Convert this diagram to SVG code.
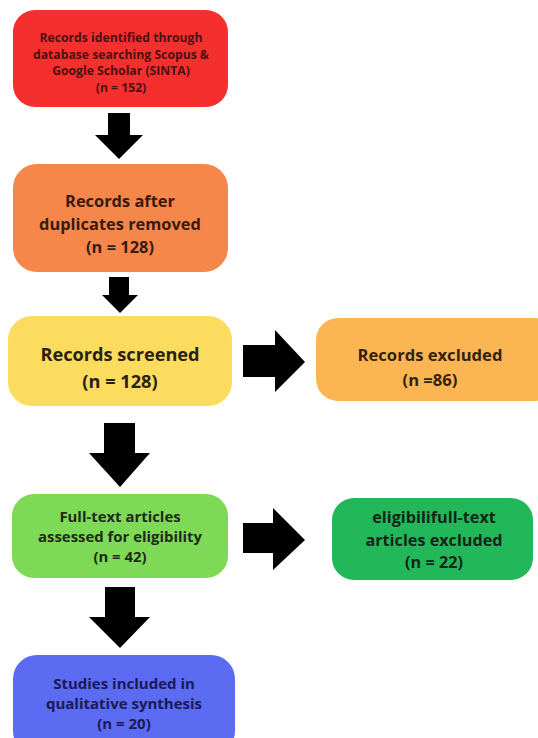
<svg xmlns="http://www.w3.org/2000/svg" width="538" height="738" viewBox="0 0 538 738">
<style>
text{font-family:"Open Sans","Noto Sans","Liberation Sans",sans-serif;font-weight:700;text-anchor:middle;dominant-baseline:central}
.arrow{fill:#000}
</style>
<rect width="538" height="738" fill="#fff"/>
<g id="connectors">
<polygon class="arrow" points="108,113 130,113 130,135 143,135 119,159 95,135 108,135"/>
<polygon class="arrow" points="109,277 129,277 129,295 138,295 120,313 102,295 109,295"/>
<polygon class="arrow" points="243,345 275,345 275,330 305,362 275,392 275,377 243,377"/>
<polygon class="arrow" points="104,423 135,423 135,453 150,453 120,487 89,453 104,453"/>
<polygon class="arrow" points="243,523 273,523 273,508 305,540 273,570 273,553 243,553"/>
<polygon class="arrow" points="105,587 135,587 135,617 150,617 120,648 89,617 105,617"/>
</g>
<g id="identified">
<rect x="13" y="10" width="215" height="97" rx="22" fill="#F52E2E"/>
<text fill="#4a1212" font-size="12.2"><tspan x="121" y="37">Records identified through</tspan><tspan x="121" y="53.5">database searching Scopus &amp;</tspan><tspan x="121" y="70">Google Scholar (SINTA)</tspan><tspan x="121" y="86.5">(n = 152)</tspan></text>
</g>
<g id="duplicates">
<rect x="13" y="164" width="215" height="108" rx="24" fill="#F5874B"/>
<text fill="#3a1a0e" font-size="16.4"><tspan x="120" y="200">Records after</tspan><tspan x="120" y="223">duplicates removed</tspan><tspan x="120" y="246">(n = 128)</tspan></text>
</g>
<g id="screened">
<rect x="8" y="316" width="224" height="90" rx="24" fill="#FCDC5E"/>
<text fill="#2a2210" font-size="18.2"><tspan x="120" y="354">Records screened</tspan><tspan x="120" y="381">(n = 128)</tspan></text>
</g>
<g id="excluded">
<rect x="316" y="318" width="240" height="83" rx="22" fill="#FBB653"/>
<text fill="#33220e" font-size="16.6"><tspan x="430" y="354">Records excluded</tspan><tspan x="430" y="379">(n =86)</tspan></text>
</g>
<g id="fulltext">
<rect x="12" y="494" width="216" height="84" rx="22" fill="#7ED957"/>
<text fill="#1f2a18" font-size="14.9"><tspan x="120" y="516">Full-text articles</tspan><tspan x="120" y="536">assessed for eligibility</tspan><tspan x="120" y="556">(n = 42)</tspan></text>
</g>
<g id="fulltext-excluded">
<rect x="332" y="498" width="201" height="82" rx="22" fill="#22B85A"/>
<text fill="#15251a" font-size="16.2"><tspan x="434" y="517">eligibilifull-text</tspan><tspan x="434" y="540">articles excluded</tspan><tspan x="434" y="562">(n = 22)</tspan></text>
</g>
<g id="included">
<rect x="13" y="655" width="222" height="100" rx="24" fill="#5B6BF2"/>
<text fill="#1a1a55" font-size="15"><tspan x="124" y="683">Studies included in</tspan><tspan x="124" y="703">qualitative synthesis</tspan><tspan x="124" y="723">(n = 20)</tspan></text>
</g>
</svg>
